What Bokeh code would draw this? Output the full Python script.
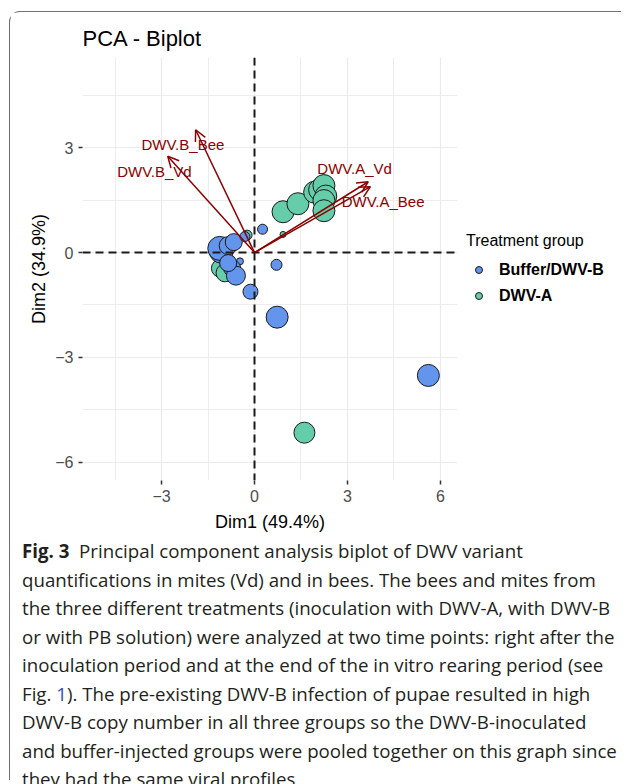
from bokeh.plotting import figure
from bokeh.models import (Range1d, FixedTicker, Span, Arrow, OpenHead, ColumnDataSource,
                          LabelSet, Div)
from bokeh.core.properties import value
from bokeh.layouts import column, row
from bokeh.embed import file_html
from bokeh.resources import INLINE

# ---------------- data ----------------
group_names = ["Buffer/DWV-B", "DWV-A"]

# individuals: Buffer/DWV-B group (Dim1, Dim2, quality cos2)
buf_x = [-1.07, -1.12, -0.85, -0.67, -0.31, -0.47, -0.72, -0.60, -0.85, -0.13, 0.26, 0.71, 0.73, 5.61]
buf_y = [0.04, 0.12, 0.20, 0.30, 0.46, -0.25, -0.45, -0.66, -0.30, -1.12, 0.67, -0.35, -1.85, -3.52]
buf_q = [0.95, 0.95, 0.65, 0.60, 0.25, 0.10, 0.60, 0.70, 0.60, 0.50, 0.25, 0.30, 0.85, 0.85]

# individuals: DWV-A group
dwva_x = [-1.10, -0.95, -0.24, 0.92, 0.92, 1.40, 1.94, 2.10, 2.24, 2.30, 2.24, 2.24, 1.61]
dwva_y = [-0.45, -0.58, 0.50, 0.52, 1.17, 1.40, 1.73, 1.80, 1.92, 1.62, 1.49, 1.20, -5.16]
dwva_q = [0.65, 0.65, 0.25, 0.05, 0.85, 0.85, 0.85, 0.85, 0.85, 0.85, 0.85, 0.85, 0.80]

# variables (loadings)
var_names = ["DWV.B_Bee", "DWV.B_Vd", "DWV.A_Vd", "DWV.A_Bee"]
var_x = [-1.90, -2.80, 3.67, 3.74]
var_y = [3.52, 2.76, 2.03, 1.89]
var_label_x = [-2.31, -3.23, 3.23, 4.15]
var_label_y = [3.09, 2.33, 2.42, 1.47]

x_ticks = [-3, 0, 3, 6]
x_minor = [-4.5, -1.5, 1.5, 4.5]
y_ticks = [-6, -3, 0, 3]
y_minor = [-4.5, -1.5, 1.5, 4.5]

title_text = "PCA - Biplot"
x_title = "Dim1 (49.4%)"
y_title = "Dim2 (34.9%)"
legend_title = "Treatment group"

caption_lines = [
    "<b>Fig.&nbsp;3</b>&nbsp;&nbsp;Principal component analysis biplot of DWV variant",
    "quantifications in mites (Vd) and in bees. The bees and mites from",
    "the three different treatments (inoculation with DWV-A, with DWV-B",
    "or with PB solution) were analyzed at two time points: right after the",
    "inoculation period and at the end of the in vitro rearing period (see",
    "Fig. <span style='color:#2a52be'>1</span>). The pre-existing DWV-B infection of pupae resulted in high",
    "DWV-B copy number in all three groups so the DWV-B-inoculated",
    "and buffer-injected groups were pooled together on this graph since",
    "they had the same viral profiles",
]

# ---------------- figure ----------------
FONT = "Liberation Sans"
blue = "#6495ED"
green = "#66CDAA"
group_colors = [blue, green]
arrow_col = "#8B0000"

p = figure(width=452, height=522,
           x_range=Range1d(-5.55, 6.55), y_range=Range1d(-6.53, 5.59),
           output_backend="svg", toolbar_location=None,
           min_border_left=72, min_border_right=5,
           min_border_top=45, min_border_bottom=54,
           title=title_text)
p.outline_line_color = None
p.background_fill_color = "white"
p.border_fill_color = "white"

p.title.text_font = FONT
p.title.text_font_size = "22px"
p.title.text_font_style = "normal"
p.title.text_color = "black"
p.title.offset = 0
p.title.standoff = 14

for ax, ticks, minor, lab, stand in ((p.xaxis[0], x_ticks, x_minor, x_title, 7),
                                     (p.yaxis[0], y_ticks, y_minor, y_title, 3)):
    ax.ticker = FixedTicker(ticks=ticks, minor_ticks=minor)
    ax.axis_line_color = None
    ax.major_tick_line_color = "#333333"
    ax.major_tick_line_width = 1.5
    ax.major_tick_out = 4
    ax.major_tick_in = 0
    ax.minor_tick_line_color = None
    ax.major_label_text_font = FONT
    ax.major_label_text_font_size = "16px"
    ax.major_label_text_color = "#4D4D4D"
    ax.major_label_standoff = 5
    ax.axis_label = lab
    ax.axis_label_text_font = FONT
    ax.axis_label_text_font_size = "18px"
    ax.axis_label_text_font_style = "normal"
    ax.axis_label_text_color = "black"
    ax.axis_label_standoff = stand

for g in (p.xgrid[0], p.ygrid[0]):
    g.grid_line_color = "#EBEBEB"
    g.grid_line_width = 1.2
    g.minor_grid_line_color = "#EBEBEB"
    g.minor_grid_line_width = 0.9

def sizes(q):
    return [5 + 20 * v for v in q]

src_g = ColumnDataSource(dict(x=dwva_x, y=dwva_y, s=sizes(dwva_q)))
src_b = ColumnDataSource(dict(x=buf_x, y=buf_y, s=sizes(buf_q)))
rg = p.scatter("x", "y", size="s", source=src_g, fill_color=green,
               line_color="#1a1a1a", line_width=1)
rb = p.scatter("x", "y", size="s", source=src_b, fill_color=blue,
               line_color="#1a1a1a", line_width=1)

p.add_layout(Span(location=0, dimension="height", line_color="#1a1a1a",
                  line_width=2, line_dash="8 5"))
p.add_layout(Span(location=0, dimension="width", line_color="#1a1a1a",
                  line_width=2, line_dash="8 5"))

arr_src = ColumnDataSource(dict(x0=[0] * len(var_x), y0=[0] * len(var_y),
                                x1=var_x, y1=var_y))
p.add_layout(Arrow(end=OpenHead(size=11, line_color=arrow_col, line_width=1.5),
                   x_start="x0", y_start="y0", x_end="x1", y_end="y1",
                   source=arr_src, line_color=arrow_col, line_width=1.5))

lab_src = ColumnDataSource(dict(x=var_label_x, y=var_label_y, t=var_names))
p.add_layout(LabelSet(x="x", y="y", text="t", source=lab_src,
                      text_align="center", text_baseline="middle",
                      text_font=value(FONT), text_font_size="15px",
                      text_color=arrow_col))

# ---------------- legend (outside the panel, as in the reference) ----------------
items_html = "".join(
    "<div style=\"font-size:16px; font-weight:bold; line-height:26px; height:26px; "
    "white-space:nowrap; display:flex; align-items:center;\">"
    f"<span style=\"display:inline-block; width:8px; height:8px; border-radius:50%; "
    f"background:{c}; border:1px solid #1a1a1a; box-sizing:border-box; "
    f"margin-left:9px; margin-right:16px;\"></span>{n}</div>"
    for n, c in zip(group_names, group_colors))
legend_html = ("<div style=\"font-family:'Liberation Sans'; color:black; "
               "padding-left:4px; padding-top:219px;\">"
               "<div style=\"font-size:16px; line-height:20px; height:20px; white-space:nowrap;\">"
               + legend_title + "</div><div style=\"height:6px\"></div>"
               + items_html + "</div>")
legend_div = Div(text=legend_html, width=159, height=522, margin=0)

cap_html = ("<div style=\"font-family:'Open Sans'; font-size:18.7px; line-height:28.5px; "
            "color:#231f20; padding-left:12px; padding-top:3px; white-space:nowrap;\">"
            + "<br>".join(caption_lines) + "</div>")
cap = Div(text=cap_html, width=611, height=246, margin=0)

layout = column(row(p, legend_div, spacing=0), cap, spacing=0,
                margin=(11, 0, 0, 9),
                styles={"border-left": "1.5px solid #707070",
                        "border-top": "1.5px solid #707070",
                        "border-top-left-radius": "11px"})

open("out.html", "w").write(file_html(layout, INLINE))
